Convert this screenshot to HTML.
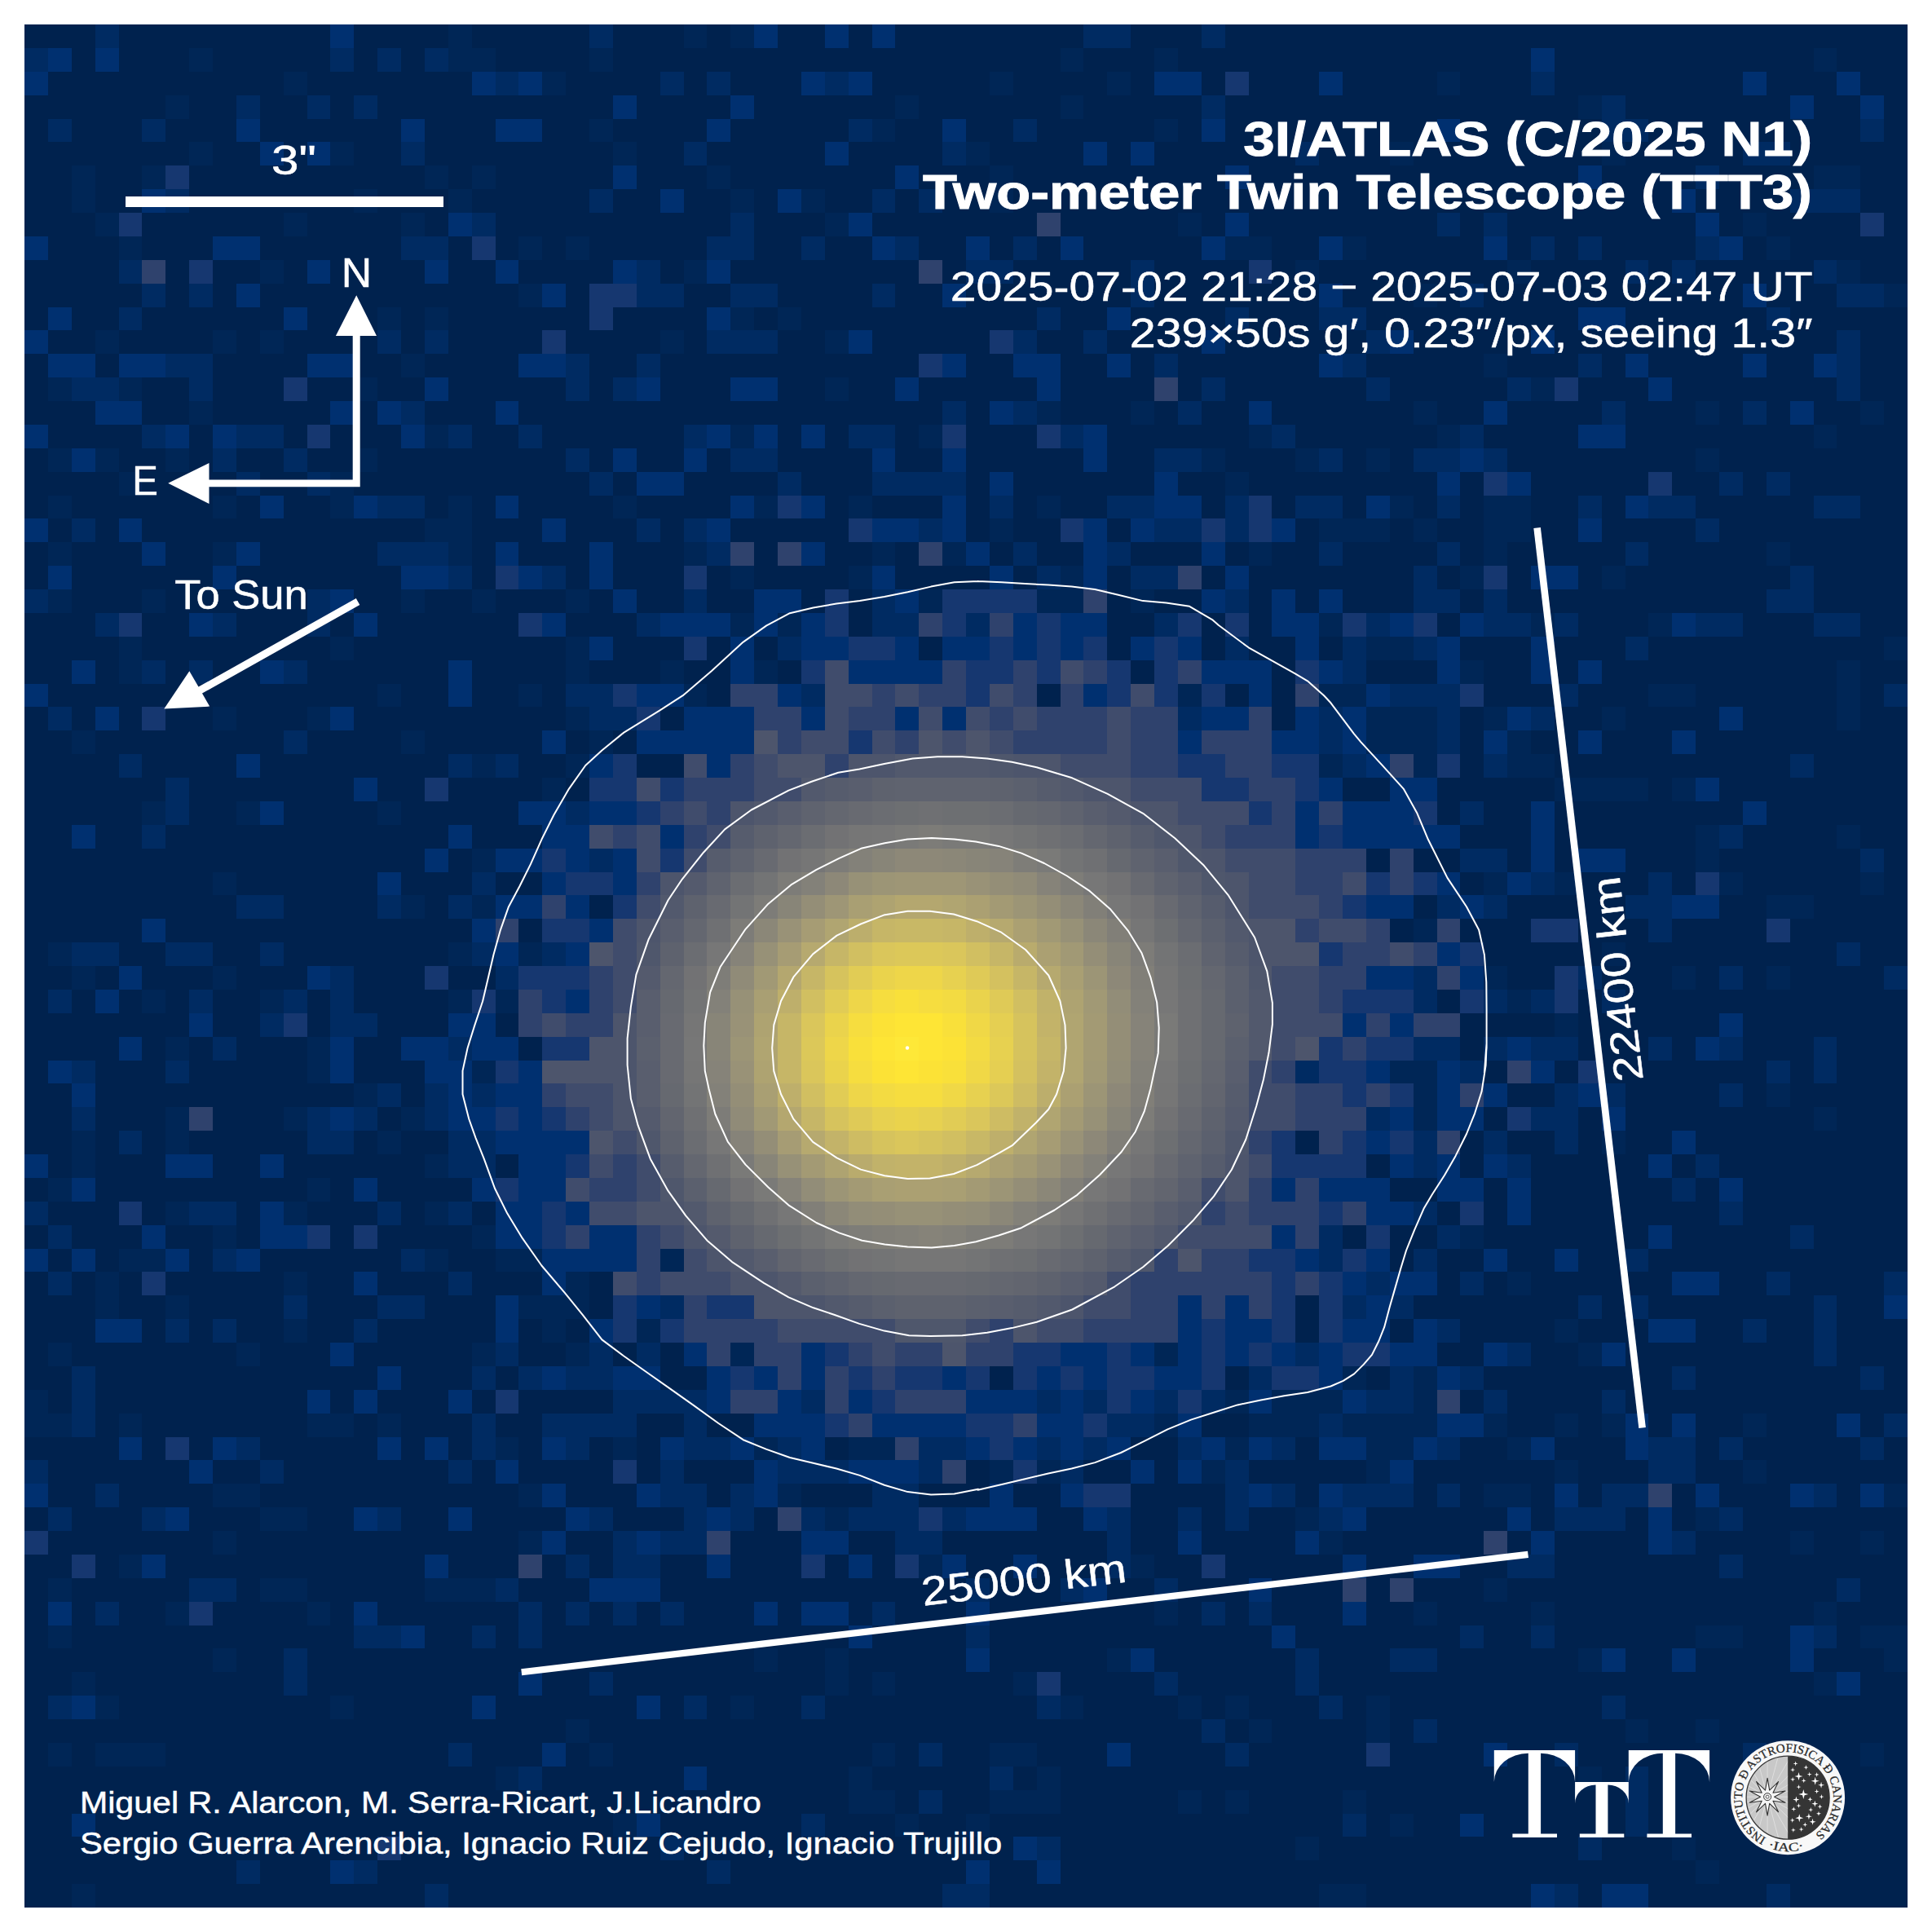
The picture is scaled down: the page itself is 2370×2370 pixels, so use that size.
<!DOCTYPE html>
<html><head><meta charset="utf-8"><style>
html,body{margin:0;padding:0;background:#fff;width:2370px;height:2370px;overflow:hidden}
svg{display:block;position:absolute;left:0;top:0}
text{font-family:"Liberation Sans",sans-serif;fill:#fff}
</style></head><body>
<svg width="2370" height="2370" viewBox="0 0 2370 2370">
<rect x="0" y="0" width="2370" height="2370" fill="#fff"/>
<rect x="30" y="30" width="2310" height="2310" fill="#00224e"/>
<g transform="translate(30 30) scale(28.875000)" shape-rendering="crispEdges"><path fill="#002656" d="M18 0h1v1h-1zM28 0h1v1h-1zM30 0h1v1h-1zM7 1h1v1h-1zM18 1h2v1h-2zM24 1h1v1h-1zM44 1h1v1h-1zM48 1h1v1h-1zM76 1h1v1h-1zM11 2h1v1h-1zM22 2h1v1h-1zM41 2h1v1h-1zM46 2h1v1h-1zM60 2h1v1h-1zM6 3h1v1h-1zM37 3h1v1h-1zM44 3h1v1h-1zM66 3h1v1h-1zM24 4h1v1h-1zM36 4h1v1h-1zM48 4h1v1h-1zM7 5h1v1h-1zM13 5h1v1h-1zM25 5h1v1h-1zM40 5h1v1h-1zM58 5h1v1h-1zM67 5h1v1h-1zM2 6h1v1h-1zM5 6h1v1h-1zM17 6h1v1h-1zM19 6h1v1h-1zM29 6h1v1h-1zM41 6h1v1h-1zM76 6h2v1h-2zM2 7h1v1h-1zM14 7h1v1h-1zM18 7h1v1h-1zM30 7h1v1h-1zM33 7h1v1h-1zM41 7h1v1h-1zM3 8h1v1h-1zM11 8h1v1h-1zM16 8h1v1h-1zM34 8h1v1h-1zM49 8h1v1h-1zM73 8h1v1h-1zM4 9h1v1h-1zM21 9h1v1h-1zM23 9h1v1h-1zM51 9h2v1h-2zM56 9h1v1h-1zM74 9h1v1h-1zM10 10h1v1h-1zM28 10h1v1h-1zM54 10h1v1h-1zM63 10h1v1h-1zM77 10h1v1h-1zM21 11h1v1h-1zM59 11h1v1h-1zM79 11h1v1h-1zM15 12h1v1h-1zM17 12h1v1h-1zM30 12h1v1h-1zM32 12h1v1h-1zM3 13h1v1h-1zM8 13h1v1h-1zM10 13h1v1h-1zM27 13h1v1h-1zM34 13h1v1h-1zM16 14h1v1h-1zM62 14h1v1h-1zM1 15h1v1h-1zM4 15h1v1h-1zM14 15h1v1h-1zM34 15h1v1h-1zM64 15h1v1h-1zM7 16h1v1h-1zM43 16h1v1h-1zM47 16h1v1h-1zM59 16h1v1h-1zM71 16h1v1h-1zM78 16h1v1h-1zM17 17h1v1h-1zM30 17h1v1h-1zM38 17h1v1h-1zM52 17h1v1h-1zM60 17h1v1h-1zM76 17h1v1h-1zM1 18h1v1h-1zM3 18h1v1h-1zM6 18h1v1h-1zM14 18h1v1h-1zM50 18h1v1h-1zM54 18h1v1h-1zM57 18h1v1h-1zM71 18h1v1h-1zM4 19h1v1h-1zM13 19h1v1h-1zM51 19h1v1h-1zM1 20h1v1h-1zM8 20h1v1h-1zM13 20h1v1h-1zM18 20h1v1h-1zM25 20h1v1h-1zM31 20h1v1h-1zM35 20h1v1h-1zM43 20h1v1h-1zM58 20h1v1h-1zM62 20h2v1h-2zM17 21h2v1h-2zM41 21h1v1h-1zM55 21h3v1h-3zM59 21h1v1h-1zM62 21h2v1h-2zM1 22h1v1h-1zM8 22h1v1h-1zM18 22h1v1h-1zM28 22h1v1h-1zM36 22h1v1h-1zM39 22h1v1h-1zM52 22h1v1h-1zM62 22h1v1h-1zM74 22h1v1h-1zM30 23h1v1h-1zM35 23h1v1h-1zM44 23h1v1h-1zM61 23h1v1h-1zM67 23h1v1h-1zM1 24h1v1h-1zM5 24h1v1h-1zM16 24h1v1h-1zM19 24h1v1h-1zM23 24h1v1h-1zM38 24h1v1h-1zM43 24h2v1h-2zM47 24h1v1h-1zM30 25h1v1h-1zM32 25h1v1h-1zM55 25h1v1h-1zM64 25h1v1h-1zM69 25h1v1h-1zM4 26h1v1h-1zM13 26h1v1h-1zM23 26h1v1h-1zM57 26h2v1h-2zM79 26h1v1h-1zM4 27h1v1h-1zM23 27h1v1h-1zM27 27h1v1h-1zM31 27h1v1h-1zM61 27h1v1h-1zM77 27h1v1h-1zM15 28h1v1h-1zM21 28h1v1h-1zM28 28h1v1h-1zM49 28h1v1h-1zM55 28h2v1h-2zM69 28h2v1h-2zM77 28h1v1h-1zM8 29h1v1h-1zM12 29h1v1h-1zM23 29h1v1h-1zM57 29h3v1h-3zM62 29h1v1h-1zM67 29h1v1h-1zM77 29h1v1h-1zM2 30h1v1h-1zM16 30h1v1h-1zM24 30h1v1h-1zM57 30h3v1h-3zM63 30h1v1h-1zM19 31h1v1h-1zM23 31h1v1h-1zM55 31h1v1h-1zM59 31h1v1h-1zM63 31h2v1h-2zM22 32h1v1h-1zM65 32h4v1h-4zM70 32h1v1h-1zM5 33h1v1h-1zM9 33h1v1h-1zM15 33h1v1h-1zM71 34h1v1h-1zM77 34h1v1h-1zM19 35h1v1h-1zM71 35h1v1h-1zM8 36h1v1h-1zM62 36h1v1h-1zM65 36h1v1h-1zM72 36h1v1h-1zM78 36h1v1h-1zM16 37h1v1h-1zM19 37h1v1h-1zM74 37h2v1h-2zM59 38h1v1h-1zM1 39h1v1h-1zM18 39h1v1h-1zM21 39h1v1h-1zM67 39h1v1h-1zM2 40h1v1h-1zM8 40h1v1h-1zM62 40h1v1h-1zM70 40h1v1h-1zM74 40h1v1h-1zM5 41h1v1h-1zM10 41h1v1h-1zM18 41h1v1h-1zM20 41h1v1h-1zM63 41h1v1h-1zM65 42h1v1h-1zM6 43h1v1h-1zM12 43h1v1h-1zM12 44h1v1h-1zM19 44h1v1h-1zM58 44h2v1h-2zM14 45h1v1h-1zM59 45h1v1h-1zM74 45h1v1h-1zM6 46h1v1h-1zM11 46h1v1h-1zM16 46h1v1h-1zM59 46h1v1h-1zM76 46h1v1h-1zM2 47h1v1h-1zM6 47h1v1h-1zM15 47h1v1h-1zM67 47h1v1h-1zM2 48h1v1h-1zM17 48h1v1h-1zM1 49h1v1h-1zM12 49h1v1h-1zM6 50h1v1h-1zM11 50h1v1h-1zM17 50h1v1h-1zM8 51h1v1h-1zM19 51h1v1h-1zM61 51h1v1h-1zM4 52h2v1h-2zM17 52h1v1h-1zM20 52h2v1h-2zM27 52h1v1h-1zM3 53h1v1h-1zM11 53h1v1h-1zM23 53h1v1h-1zM63 53h1v1h-1zM3 54h1v1h-1zM6 54h1v1h-1zM21 54h3v1h-3zM11 55h1v1h-1zM22 55h1v1h-1zM26 55h1v1h-1zM65 55h1v1h-1zM1 56h1v1h-1zM9 56h1v1h-1zM19 56h1v1h-1zM23 56h1v1h-1zM30 56h1v1h-1zM48 56h1v1h-1zM66 56h1v1h-1zM56 57h1v1h-1zM59 57h1v1h-1zM0 58h1v1h-1zM51 58h1v1h-1zM53 58h3v1h-3zM59 58h1v1h-1zM0 59h2v1h-2zM4 59h1v1h-1zM12 59h2v1h-2zM15 59h1v1h-1zM48 59h1v1h-1zM52 59h3v1h-3zM56 59h4v1h-4zM62 59h1v1h-1zM65 59h1v1h-1zM67 59h1v1h-1zM73 59h1v1h-1zM20 60h1v1h-1zM25 60h1v1h-1zM31 60h1v1h-1zM35 60h2v1h-2zM51 60h1v1h-1zM57 60h2v1h-2zM63 60h1v1h-1zM41 61h1v1h-1zM43 61h1v1h-1zM50 61h1v1h-1zM57 61h1v1h-1zM65 61h1v1h-1zM73 61h1v1h-1zM8 62h2v1h-2zM21 62h1v1h-1zM32 62h1v1h-1zM62 62h2v1h-2zM79 62h1v1h-1zM10 63h2v1h-2zM34 63h1v1h-1zM54 63h1v1h-1zM71 63h1v1h-1zM8 64h1v1h-1zM21 64h1v1h-1zM55 64h1v1h-1zM75 64h1v1h-1zM78 64h1v1h-1zM4 65h1v1h-1zM38 65h1v1h-1zM47 65h1v1h-1zM1 66h1v1h-1zM10 66h2v1h-2zM17 66h3v1h-3zM62 66h1v1h-1zM6 67h1v1h-1zM12 67h1v1h-1zM48 67h1v1h-1zM59 67h1v1h-1zM64 67h1v1h-1zM76 67h1v1h-1zM1 68h1v1h-1zM71 68h2v1h-2zM78 68h2v1h-2zM8 69h1v1h-1zM31 69h1v1h-1zM34 69h1v1h-1zM46 69h1v1h-1zM66 69h1v1h-1zM79 69h1v1h-1zM2 70h1v1h-1zM34 70h1v1h-1zM36 70h1v1h-1zM42 70h1v1h-1zM76 70h1v1h-1zM3 71h1v1h-1zM13 71h1v1h-1zM30 71h1v1h-1zM44 71h1v1h-1zM49 71h1v1h-1zM51 71h1v1h-1zM57 71h1v1h-1zM23 72h1v1h-1zM52 72h1v1h-1zM57 72h1v1h-1zM68 72h1v1h-1zM71 72h1v1h-1zM1 73h1v1h-1zM3 73h3v1h-3zM24 73h1v1h-1zM36 73h1v1h-1zM41 73h2v1h-2zM78 73h1v1h-1zM20 74h1v1h-1zM35 74h1v1h-1zM43 74h1v1h-1zM66 74h1v1h-1zM35 75h2v1h-2zM41 75h3v1h-3zM49 75h1v1h-1zM51 75h1v1h-1zM56 75h1v1h-1zM25 76h1v1h-1zM37 76h1v1h-1zM40 76h1v1h-1zM58 76h1v1h-1zM54 77h1v1h-1zM70 77h1v1h-1zM71 78h1v1h-1zM2 79h1v1h-1zM55 79h2v1h-2z"/><path fill="#002b62" d="M3 0h1v1h-1zM24 0h1v1h-1zM45 0h2v1h-2zM50 0h1v1h-1zM0 1h1v1h-1zM13 1h1v1h-1zM15 1h1v1h-1zM17 1h1v1h-1zM20 2h1v1h-1zM27 2h1v1h-1zM29 2h1v1h-1zM34 2h1v1h-1zM64 2h1v1h-1zM9 3h1v1h-1zM12 3h1v1h-1zM14 3h1v1h-1zM50 3h1v1h-1zM67 3h1v1h-1zM1 4h1v1h-1zM5 4h1v1h-1zM35 4h1v1h-1zM42 4h1v1h-1zM67 4h2v1h-2zM78 4h1v1h-1zM16 5h1v1h-1zM28 5h1v1h-1zM39 5h1v1h-1zM54 5h1v1h-1zM73 5h2v1h-2zM71 6h1v1h-1zM6 7h1v1h-1zM24 7h1v1h-1zM36 7h1v1h-1zM38 7h1v1h-1zM75 7h3v1h-3zM19 8h1v1h-1zM30 8h1v1h-1zM60 8h1v1h-1zM62 8h1v1h-1zM16 9h2v1h-2zM29 9h2v1h-2zM33 9h1v1h-1zM37 9h1v1h-1zM42 9h1v1h-1zM64 9h1v1h-1zM66 9h1v1h-1zM71 9h1v1h-1zM4 10h1v1h-1zM26 10h1v1h-1zM40 10h2v1h-2zM47 10h1v1h-1zM68 10h1v1h-1zM70 10h1v1h-1zM76 10h1v1h-1zM5 11h1v1h-1zM7 11h1v1h-1zM26 11h2v1h-2zM30 11h2v1h-2zM36 11h1v1h-1zM47 11h1v1h-1zM61 11h1v1h-1zM77 11h2v1h-2zM4 12h1v1h-1zM43 12h1v1h-1zM51 12h1v1h-1zM55 12h2v1h-2zM74 12h1v1h-1zM15 13h1v1h-1zM17 13h1v1h-1zM29 13h3v1h-3zM42 13h1v1h-1zM45 13h1v1h-1zM57 13h1v1h-1zM77 13h1v1h-1zM6 14h2v1h-2zM23 14h1v1h-1zM26 14h1v1h-1zM48 14h1v1h-1zM56 14h1v1h-1zM66 14h1v1h-1zM77 14h1v1h-1zM2 15h2v1h-2zM7 15h1v1h-1zM23 15h1v1h-1zM25 15h1v1h-1zM50 15h1v1h-1zM57 15h1v1h-1zM63 15h1v1h-1zM77 15h1v1h-1zM16 16h1v1h-1zM39 16h1v1h-1zM42 16h1v1h-1zM49 16h1v1h-1zM67 16h1v1h-1zM73 16h1v1h-1zM5 17h1v1h-1zM9 17h2v1h-2zM18 17h1v1h-1zM21 17h1v1h-1zM28 17h1v1h-1zM35 17h2v1h-2zM44 17h1v1h-1zM53 17h1v1h-1zM61 17h1v1h-1zM8 18h1v1h-1zM11 18h1v1h-1zM23 18h1v1h-1zM30 18h2v1h-2zM48 18h2v1h-2zM55 18h1v1h-1zM59 18h2v1h-2zM62 18h1v1h-1zM9 19h1v1h-1zM12 19h1v1h-1zM24 19h1v1h-1zM32 19h1v1h-1zM36 19h4v1h-4zM72 19h1v1h-1zM74 19h1v1h-1zM15 20h2v1h-2zM41 20h1v1h-1zM46 20h2v1h-2zM51 20h1v1h-1zM54 20h2v1h-2zM60 20h1v1h-1zM66 20h1v1h-1zM69 20h2v1h-2zM76 20h2v1h-2zM2 21h1v1h-1zM26 21h1v1h-1zM28 21h1v1h-1zM38 21h1v1h-1zM48 21h2v1h-2zM51 21h1v1h-1zM71 21h1v1h-1zM15 22h3v1h-3zM29 22h1v1h-1zM42 22h1v1h-1zM46 22h1v1h-1zM55 22h1v1h-1zM60 22h1v1h-1zM68 22h1v1h-1zM18 23h1v1h-1zM22 23h1v1h-1zM43 23h1v1h-1zM47 23h2v1h-2zM59 23h1v1h-1zM75 23h1v1h-1zM0 24h1v1h-1zM12 24h1v1h-1zM28 24h1v1h-1zM36 24h1v1h-1zM51 24h1v1h-1zM59 24h2v1h-2zM62 24h1v1h-1zM74 24h2v1h-2zM3 25h1v1h-1zM8 25h1v1h-1zM12 25h1v1h-1zM26 25h1v1h-1zM36 25h2v1h-2zM40 25h1v1h-1zM48 25h1v1h-1zM57 25h1v1h-1zM62 25h2v1h-2zM65 25h1v1h-1zM71 25h2v1h-2zM76 25h2v1h-2zM32 26h1v1h-1zM51 26h1v1h-1zM56 26h1v1h-1zM59 26h1v1h-1zM68 26h1v1h-1zM5 27h1v1h-1zM7 27h1v1h-1zM11 27h1v1h-1zM56 27h1v1h-1zM23 28h2v1h-2zM33 28h1v1h-1zM58 28h3v1h-3zM65 28h1v1h-1zM79 28h1v1h-1zM1 29h1v1h-1zM24 29h2v1h-2zM49 29h1v1h-1zM55 29h1v1h-1zM60 29h1v1h-1zM64 29h1v1h-1zM11 30h1v1h-1zM55 30h1v1h-1zM60 30h1v1h-1zM4 31h1v1h-1zM18 31h1v1h-1zM20 31h1v1h-1zM56 31h1v1h-1zM62 31h1v1h-1zM75 31h1v1h-1zM6 32h1v1h-1zM6 33h1v1h-1zM23 33h1v1h-1zM61 33h1v1h-1zM5 34h1v1h-1zM72 34h1v1h-1zM24 35h1v1h-1zM61 35h2v1h-2zM78 35h1v1h-1zM19 36h1v1h-1zM64 36h1v1h-1zM69 36h1v1h-1zM9 37h2v1h-2zM15 37h1v1h-1zM18 37h1v1h-1zM60 37h1v1h-1zM62 37h1v1h-1zM68 37h2v1h-2zM69 38h1v1h-1zM2 39h2v1h-2zM6 39h2v1h-2zM10 39h1v1h-1zM19 39h1v1h-1zM22 39h1v1h-1zM77 39h1v1h-1zM13 40h1v1h-1zM20 40h1v1h-1zM59 40h1v1h-1zM66 40h1v1h-1zM72 40h1v1h-1zM79 40h1v1h-1zM1 41h1v1h-1zM7 41h1v1h-1zM11 41h1v1h-1zM13 41h1v1h-1zM59 41h1v1h-1zM62 41h1v1h-1zM64 41h1v1h-1zM67 41h1v1h-1zM10 42h1v1h-1zM13 42h2v1h-2zM8 43h1v1h-1zM18 43h1v1h-1zM59 43h2v1h-2zM62 43h1v1h-1zM64 43h2v1h-2zM69 43h1v1h-1zM72 43h1v1h-1zM76 43h1v1h-1zM2 44h1v1h-1zM6 44h1v1h-1zM54 44h1v1h-1zM61 44h1v1h-1zM74 44h1v1h-1zM76 44h1v1h-1zM15 45h1v1h-1zM17 45h1v1h-1zM19 45h1v1h-1zM65 45h1v1h-1zM67 45h1v1h-1zM72 45h1v1h-1zM2 46h1v1h-1zM12 46h1v1h-1zM14 46h1v1h-1zM17 46h1v1h-1zM57 46h1v1h-1zM64 46h2v1h-2zM4 47h1v1h-1zM12 47h2v1h-2zM18 47h2v1h-2zM59 47h1v1h-1zM62 47h1v1h-1zM65 47h1v1h-1zM18 48h2v1h-2zM59 48h1v1h-1zM63 48h1v1h-1zM71 48h1v1h-1zM70 49h1v1h-1zM0 50h1v1h-1zM7 50h2v1h-2zM15 50h1v1h-1zM18 50h1v1h-1zM59 50h1v1h-1zM72 50h1v1h-1zM1 51h1v1h-1zM55 51h1v1h-1zM60 51h1v1h-1zM75 51h1v1h-1zM8 52h1v1h-1zM16 52h1v1h-1zM55 52h1v1h-1zM59 52h1v1h-1zM68 52h1v1h-1zM1 53h1v1h-1zM18 53h1v1h-1zM57 53h1v1h-1zM61 53h1v1h-1zM74 53h1v1h-1zM79 53h1v1h-1zM11 54h1v1h-1zM15 54h2v1h-2zM27 54h1v1h-1zM56 54h1v1h-1zM58 54h1v1h-1zM66 54h1v1h-1zM68 54h1v1h-1zM76 54h1v1h-1zM6 55h1v1h-1zM8 55h1v1h-1zM14 55h1v1h-1zM60 55h1v1h-1zM73 55h1v1h-1zM76 55h1v1h-1zM20 56h1v1h-1zM24 56h1v1h-1zM26 56h1v1h-1zM54 56h1v1h-1zM63 56h1v1h-1zM76 56h1v1h-1zM2 57h1v1h-1zM19 57h1v1h-1zM21 57h1v1h-1zM23 57h2v1h-2zM52 57h1v1h-1zM58 57h1v1h-1zM61 57h1v1h-1zM70 57h1v1h-1zM78 57h1v1h-1zM2 58h1v1h-1zM25 58h4v1h-4zM33 58h1v1h-1zM43 58h1v1h-1zM45 58h1v1h-1zM48 58h1v1h-1zM50 58h1v1h-1zM57 58h2v1h-2zM62 58h1v1h-1zM67 58h1v1h-1zM2 59h1v1h-1zM19 59h1v1h-1zM22 59h4v1h-4zM28 59h1v1h-1zM46 59h2v1h-2zM55 59h1v1h-1zM79 59h1v1h-1zM9 60h1v1h-1zM19 60h1v1h-1zM23 60h1v1h-1zM28 60h2v1h-2zM32 60h1v1h-1zM38 60h2v1h-2zM43 60h1v1h-1zM45 60h1v1h-1zM49 60h1v1h-1zM53 60h1v1h-1zM60 60h1v1h-1zM69 60h2v1h-2zM72 60h1v1h-1zM78 60h1v1h-1zM0 61h1v1h-1zM10 61h1v1h-1zM18 61h1v1h-1zM27 61h1v1h-1zM32 61h3v1h-3zM38 61h1v1h-1zM44 61h1v1h-1zM51 61h1v1h-1zM69 61h2v1h-2zM3 62h1v1h-1zM27 62h2v1h-2zM30 62h1v1h-1zM36 62h2v1h-2zM51 62h1v1h-1zM53 62h1v1h-1zM56 62h3v1h-3zM60 62h1v1h-1zM67 62h2v1h-2zM76 62h1v1h-1zM1 63h1v1h-1zM5 63h1v1h-1zM15 63h1v1h-1zM24 63h1v1h-1zM28 63h1v1h-1zM30 63h1v1h-1zM33 63h1v1h-1zM35 63h3v1h-3zM39 63h1v1h-1zM46 63h1v1h-1zM49 63h1v1h-1zM51 63h1v1h-1zM55 63h1v1h-1zM65 63h3v1h-3zM72 63h1v1h-1zM25 64h1v1h-1zM27 64h2v1h-2zM37 64h2v1h-2zM46 64h1v1h-1zM70 64h1v1h-1zM23 65h1v1h-1zM25 65h2v1h-2zM46 65h1v1h-1zM63 65h2v1h-2zM72 65h1v1h-1zM7 66h2v1h-2zM20 66h1v1h-1zM40 66h1v1h-1zM44 66h1v1h-1zM48 66h1v1h-1zM77 66h1v1h-1zM3 67h1v1h-1zM21 67h1v1h-1zM23 67h1v1h-1zM25 67h1v1h-1zM27 67h1v1h-1zM36 67h1v1h-1zM50 67h1v1h-1zM52 67h1v1h-1zM14 68h2v1h-2zM19 68h1v1h-1zM21 68h1v1h-1zM40 68h1v1h-1zM61 68h1v1h-1zM64 68h1v1h-1zM76 68h1v1h-1zM11 69h1v1h-1zM54 69h1v1h-1zM58 69h2v1h-2zM11 70h1v1h-1zM24 70h1v1h-1zM48 70h1v1h-1zM54 70h1v1h-1zM1 71h1v1h-1zM28 71h1v1h-1zM33 71h1v1h-1zM43 71h1v1h-1zM55 71h1v1h-1zM67 71h1v1h-1zM50 72h1v1h-1zM59 72h1v1h-1zM18 73h1v1h-1zM38 73h1v1h-1zM51 73h1v1h-1zM65 73h1v1h-1zM73 73h1v1h-1zM21 74h1v1h-1zM41 74h1v1h-1zM68 74h1v1h-1zM38 75h1v1h-1zM68 75h1v1h-1zM33 76h1v1h-1zM56 76h1v1h-1zM68 76h1v1h-1zM27 77h1v1h-1zM43 77h1v1h-1zM66 77h1v1h-1zM9 78h1v1h-1zM14 78h1v1h-1zM29 78h1v1h-1zM17 79h1v1h-1zM39 79h2v1h-2zM65 79h1v1h-1zM74 79h1v1h-1z"/><path fill="#003070" d="M13 0h1v1h-1zM31 0h1v1h-1zM34 0h1v1h-1zM36 0h1v1h-1zM1 1h1v1h-1zM3 1h1v1h-1zM64 1h1v1h-1zM0 2h1v1h-1zM19 2h1v1h-1zM21 2h1v1h-1zM33 2h1v1h-1zM35 2h1v1h-1zM48 2h2v1h-2zM55 2h1v1h-1zM73 2h1v1h-1zM77 2h1v1h-1zM25 3h1v1h-1zM30 3h1v1h-1zM75 3h1v1h-1zM78 3h1v1h-1zM9 4h1v1h-1zM16 4h1v1h-1zM20 4h2v1h-2zM29 4h1v1h-1zM39 4h1v1h-1zM50 4h1v1h-1zM60 4h1v1h-1zM10 5h1v1h-1zM12 5h1v1h-1zM34 5h1v1h-1zM45 5h1v1h-1zM47 5h1v1h-1zM25 6h1v1h-1zM37 6h1v1h-1zM51 6h1v1h-1zM66 6h1v1h-1zM5 7h1v1h-1zM27 7h1v1h-1zM32 7h1v1h-1zM70 7h1v1h-1zM18 8h1v1h-1zM35 8h1v1h-1zM51 8h1v1h-1zM71 8h1v1h-1zM0 9h1v1h-1zM8 9h2v1h-2zM36 9h1v1h-1zM40 9h1v1h-1zM44 9h1v1h-1zM50 9h1v1h-1zM55 9h1v1h-1zM62 9h1v1h-1zM72 9h1v1h-1zM12 10h1v1h-1zM17 10h1v1h-1zM20 10h1v1h-1zM25 10h1v1h-1zM29 10h1v1h-1zM9 11h1v1h-1zM22 11h1v1h-1zM39 11h1v1h-1zM55 11h1v1h-1zM73 11h1v1h-1zM1 12h1v1h-1zM11 12h1v1h-1zM29 12h1v1h-1zM46 12h1v1h-1zM66 12h2v1h-2zM0 13h1v1h-1zM35 13h1v1h-1zM50 13h1v1h-1zM58 13h1v1h-1zM64 13h1v1h-1zM1 14h2v1h-2zM4 14h2v1h-2zM12 14h2v1h-2zM21 14h2v1h-2zM39 14h1v1h-1zM42 14h2v1h-2zM46 14h1v1h-1zM55 14h1v1h-1zM68 14h1v1h-1zM73 14h1v1h-1zM76 14h1v1h-1zM17 15h1v1h-1zM26 15h1v1h-1zM30 15h2v1h-2zM37 15h1v1h-1zM43 15h1v1h-1zM69 15h1v1h-1zM3 16h2v1h-2zM13 16h1v1h-1zM15 16h1v1h-1zM20 16h1v1h-1zM41 16h1v1h-1zM52 16h1v1h-1zM62 16h1v1h-1zM75 16h1v1h-1zM0 17h1v1h-1zM6 17h1v1h-1zM8 17h1v1h-1zM16 17h1v1h-1zM29 17h1v1h-1zM31 17h1v1h-1zM33 17h1v1h-1zM45 17h1v1h-1zM66 17h2v1h-2zM2 18h1v1h-1zM25 18h1v1h-1zM28 18h1v1h-1zM36 18h1v1h-1zM39 18h1v1h-1zM45 18h1v1h-1zM61 18h1v1h-1zM26 19h2v1h-2zM41 19h1v1h-1zM48 19h1v1h-1zM60 19h1v1h-1zM63 19h1v1h-1zM10 20h1v1h-1zM14 20h1v1h-1zM20 20h1v1h-1zM30 20h1v1h-1zM33 20h1v1h-1zM39 20h1v1h-1zM48 20h2v1h-2zM57 20h1v1h-1zM68 20h1v1h-1zM0 21h1v1h-1zM4 21h1v1h-1zM22 21h1v1h-1zM29 21h1v1h-1zM36 21h2v1h-2zM39 21h1v1h-1zM45 21h1v1h-1zM47 21h1v1h-1zM53 21h1v1h-1zM66 21h1v1h-1zM5 22h1v1h-1zM9 22h1v1h-1zM20 22h1v1h-1zM24 22h1v1h-1zM33 22h1v1h-1zM40 22h1v1h-1zM45 22h1v1h-1zM50 22h1v1h-1zM1 23h1v1h-1zM8 23h1v1h-1zM16 23h2v1h-2zM21 23h1v1h-1zM24 23h1v1h-1zM36 23h1v1h-1zM41 23h1v1h-1zM45 23h1v1h-1zM51 23h1v1h-1zM64 23h2v1h-2zM13 24h1v1h-1zM25 24h1v1h-1zM31 24h2v1h-2zM37 24h1v1h-1zM50 24h1v1h-1zM53 24h1v1h-1zM55 24h1v1h-1zM7 25h1v1h-1zM14 25h1v1h-1zM22 25h1v1h-1zM27 25h3v1h-3zM31 25h1v1h-1zM33 25h1v1h-1zM42 25h1v1h-1zM44 25h2v1h-2zM53 25h2v1h-2zM58 25h1v1h-1zM61 25h1v1h-1zM70 25h1v1h-1zM24 26h1v1h-1zM30 26h1v1h-1zM33 26h2v1h-2zM37 26h1v1h-1zM39 26h2v1h-2zM42 26h1v1h-1zM44 26h1v1h-1zM47 26h1v1h-1zM49 26h1v1h-1zM54 26h1v1h-1zM60 26h1v1h-1zM64 26h1v1h-1zM2 27h1v1h-1zM10 27h1v1h-1zM18 27h1v1h-1zM30 27h1v1h-1zM35 27h4v1h-4zM50 27h3v1h-3zM55 27h1v1h-1zM60 27h1v1h-1zM64 27h1v1h-1zM66 27h1v1h-1zM0 28h1v1h-1zM18 28h1v1h-1zM26 28h2v1h-2zM32 28h1v1h-1zM45 28h1v1h-1zM52 28h1v1h-1zM57 28h1v1h-1zM3 29h1v1h-1zM13 29h1v1h-1zM28 29h3v1h-3zM33 29h1v1h-1zM37 29h1v1h-1zM39 29h1v1h-1zM50 29h2v1h-2zM54 29h1v1h-1zM56 29h1v1h-1zM63 29h1v1h-1zM72 29h1v1h-1zM22 30h1v1h-1zM26 30h5v1h-5zM49 30h1v1h-1zM53 30h2v1h-2zM56 30h1v1h-1zM62 30h1v1h-1zM66 30h1v1h-1zM70 30h1v1h-1zM9 31h1v1h-1zM24 31h1v1h-1zM29 31h1v1h-1zM57 31h1v1h-1zM14 32h1v1h-1zM55 32h1v1h-1zM58 32h2v1h-2zM71 32h1v1h-1zM10 33h1v1h-1zM21 33h2v1h-2zM24 33h2v1h-2zM54 33h1v1h-1zM56 33h3v1h-3zM64 33h1v1h-1zM73 33h1v1h-1zM2 34h1v1h-1zM18 34h1v1h-1zM22 34h2v1h-2zM27 34h1v1h-1zM54 34h1v1h-1zM56 34h5v1h-5zM64 34h1v1h-1zM17 35h1v1h-1zM20 35h2v1h-2zM23 35h1v1h-1zM25 35h1v1h-1zM64 35h1v1h-1zM66 35h2v1h-2zM15 36h1v1h-1zM22 36h1v1h-1zM25 36h1v1h-1zM60 36h1v1h-1zM63 36h1v1h-1zM20 37h2v1h-2zM23 37h1v1h-1zM57 37h2v1h-2zM61 37h1v1h-1zM70 37h2v1h-2zM5 38h1v1h-1zM19 38h1v1h-1zM24 38h1v1h-1zM20 39h1v1h-1zM23 39h1v1h-1zM60 39h1v1h-1zM4 40h1v1h-1zM12 40h1v1h-1zM57 40h2v1h-2zM61 40h1v1h-1zM3 41h1v1h-1zM23 41h1v1h-1zM7 42h1v1h-1zM18 42h2v1h-2zM56 42h1v1h-1zM58 42h1v1h-1zM72 42h1v1h-1zM4 43h1v1h-1zM13 43h1v1h-1zM16 43h2v1h-2zM19 43h2v1h-2zM63 43h1v1h-1zM71 43h1v1h-1zM1 44h1v1h-1zM13 44h1v1h-1zM17 44h2v1h-2zM21 44h1v1h-1zM57 44h1v1h-1zM60 44h1v1h-1zM64 44h1v1h-1zM2 45h1v1h-1zM18 45h1v1h-1zM20 45h2v1h-2zM60 45h1v1h-1zM62 45h1v1h-1zM66 45h1v1h-1zM13 46h1v1h-1zM18 46h2v1h-2zM21 46h1v1h-1zM58 46h1v1h-1zM60 46h2v1h-2zM67 46h1v1h-1zM20 47h4v1h-4zM57 47h1v1h-1zM70 47h1v1h-1zM0 48h1v1h-1zM6 48h2v1h-2zM10 48h1v1h-1zM21 48h2v1h-2zM58 48h1v1h-1zM60 48h1v1h-1zM62 48h1v1h-1zM69 48h1v1h-1zM2 49h1v1h-1zM14 49h1v1h-1zM19 49h1v1h-1zM21 49h2v1h-2zM53 49h1v1h-1zM55 49h3v1h-3zM60 49h2v1h-2zM63 49h1v1h-1zM72 49h1v1h-1zM10 50h1v1h-1zM20 50h2v1h-2zM23 50h1v1h-1zM57 50h2v1h-2zM63 50h1v1h-1zM5 51h1v1h-1zM10 51h2v1h-2zM20 51h2v1h-2zM24 51h2v1h-2zM53 51h1v1h-1zM69 51h1v1h-1zM0 52h1v1h-1zM2 52h1v1h-1zM6 52h1v1h-1zM9 52h1v1h-1zM22 52h4v1h-4zM54 52h1v1h-1zM57 52h1v1h-1zM62 52h1v1h-1zM65 52h1v1h-1zM14 53h1v1h-1zM22 53h1v1h-1zM56 53h1v1h-1zM58 53h2v1h-2zM70 53h2v1h-2zM20 54h1v1h-1zM26 54h1v1h-1zM49 54h1v1h-1zM51 54h1v1h-1zM57 54h1v1h-1zM79 54h1v1h-1zM3 55h2v1h-2zM20 55h1v1h-1zM24 55h1v1h-1zM49 55h1v1h-1zM51 55h2v1h-2zM56 55h2v1h-2zM59 55h1v1h-1zM69 55h2v1h-2zM13 56h1v1h-1zM28 56h1v1h-1zM33 56h1v1h-1zM44 56h2v1h-2zM47 56h1v1h-1zM49 56h1v1h-1zM51 56h1v1h-1zM53 56h1v1h-1zM55 56h1v1h-1zM58 56h2v1h-2zM62 56h1v1h-1zM67 56h1v1h-1zM15 57h1v1h-1zM22 57h1v1h-1zM25 57h2v1h-2zM29 57h1v1h-1zM31 57h1v1h-1zM33 57h1v1h-1zM39 57h1v1h-1zM43 57h1v1h-1zM45 57h1v1h-1zM48 57h2v1h-2zM55 57h1v1h-1zM60 57h1v1h-1zM12 58h1v1h-1zM14 58h1v1h-1zM18 58h1v1h-1zM29 58h1v1h-1zM32 58h1v1h-1zM35 58h1v1h-1zM40 58h3v1h-3zM44 58h1v1h-1zM47 58h1v1h-1zM52 58h1v1h-1zM56 58h1v1h-1zM31 59h3v1h-3zM36 59h4v1h-4zM43 59h2v1h-2zM49 59h1v1h-1zM60 59h2v1h-2zM68 59h1v1h-1zM70 59h1v1h-1zM77 59h1v1h-1zM4 60h1v1h-1zM8 60h1v1h-1zM15 60h1v1h-1zM17 60h1v1h-1zM22 60h1v1h-1zM27 60h1v1h-1zM30 60h1v1h-1zM33 60h1v1h-1zM40 60h1v1h-1zM42 60h1v1h-1zM44 60h1v1h-1zM46 60h1v1h-1zM50 60h1v1h-1zM52 60h1v1h-1zM55 60h2v1h-2zM59 60h1v1h-1zM64 60h1v1h-1zM68 60h1v1h-1zM7 61h1v1h-1zM20 61h1v1h-1zM31 61h1v1h-1zM35 61h3v1h-3zM47 61h1v1h-1zM49 61h1v1h-1zM58 61h1v1h-1zM0 62h1v1h-1zM22 62h1v1h-1zM26 62h1v1h-1zM31 62h1v1h-1zM41 62h1v1h-1zM44 62h1v1h-1zM52 62h1v1h-1zM55 62h1v1h-1zM65 62h1v1h-1zM71 62h1v1h-1zM75 62h1v1h-1zM78 62h1v1h-1zM6 63h1v1h-1zM14 63h1v1h-1zM18 63h1v1h-1zM23 63h1v1h-1zM29 63h1v1h-1zM40 63h3v1h-3zM45 63h1v1h-1zM56 63h1v1h-1zM63 63h1v1h-1zM69 63h1v1h-1zM22 64h1v1h-1zM26 64h1v1h-1zM33 64h2v1h-2zM49 64h1v1h-1zM54 64h1v1h-1zM64 64h1v1h-1zM69 64h1v1h-1zM5 65h1v1h-1zM17 65h1v1h-1zM29 65h1v1h-1zM35 65h1v1h-1zM39 65h1v1h-1zM42 65h1v1h-1zM56 65h1v1h-1zM59 65h2v1h-2zM24 66h3v1h-3zM45 66h1v1h-1zM52 66h1v1h-1zM1 67h1v1h-1zM14 67h1v1h-1zM31 67h1v1h-1zM33 67h2v1h-2zM40 67h1v1h-1zM56 67h1v1h-1zM16 68h1v1h-1zM35 68h1v1h-1zM53 68h1v1h-1zM75 68h1v1h-1zM40 69h1v1h-1zM47 69h1v1h-1zM67 69h1v1h-1zM70 69h1v1h-1zM75 69h1v1h-1zM21 70h1v1h-1zM77 70h1v1h-1zM2 71h1v1h-1zM19 71h1v1h-1zM26 71h1v1h-1zM22 73h1v1h-1zM46 73h1v1h-1zM62 73h1v1h-1zM28 74h1v1h-1zM2 76h1v1h-1zM26 76h1v1h-1zM61 76h1v1h-1zM42 77h1v1h-1zM13 78h1v1h-1zM40 78h1v1h-1zM43 78h1v1h-1zM64 79h1v1h-1zM67 79h2v1h-2z"/><path fill="#163770" d="M51 2h1v1h-1zM6 6h1v1h-1zM4 8h1v1h-1zM78 8h1v1h-1zM19 9h1v1h-1zM7 10h1v1h-1zM52 10h1v1h-1zM24 11h2v1h-2zM24 12h1v1h-1zM22 13h1v1h-1zM41 13h1v1h-1zM38 14h1v1h-1zM11 15h1v1h-1zM65 15h1v1h-1zM12 17h1v1h-1zM39 17h1v1h-1zM43 17h1v1h-1zM62 19h1v1h-1zM69 19h1v1h-1zM32 20h1v1h-1zM52 20h1v1h-1zM35 21h1v1h-1zM44 21h1v1h-1zM50 21h1v1h-1zM52 21h1v1h-1zM20 23h1v1h-1zM28 23h1v1h-1zM62 23h1v1h-1zM34 24h1v1h-1zM39 24h4v1h-4zM4 25h1v1h-1zM21 25h1v1h-1zM34 25h1v1h-1zM39 25h1v1h-1zM43 25h1v1h-1zM49 25h1v1h-1zM51 25h1v1h-1zM56 25h1v1h-1zM59 25h1v1h-1zM28 26h1v1h-1zM35 26h2v1h-2zM41 26h1v1h-1zM43 26h1v1h-1zM45 26h1v1h-1zM48 26h1v1h-1zM33 27h1v1h-1zM40 27h2v1h-2zM43 27h1v1h-1zM46 27h1v1h-1zM48 27h1v1h-1zM54 27h1v1h-1zM25 28h1v1h-1zM40 28h1v1h-1zM46 28h1v1h-1zM48 28h1v1h-1zM50 28h1v1h-1zM61 28h1v1h-1zM5 29h1v1h-1zM26 29h1v1h-1zM35 30h1v1h-1zM25 31h1v1h-1zM49 31h2v1h-2zM53 31h2v1h-2zM60 31h1v1h-1zM17 32h1v1h-1zM24 32h2v1h-2zM27 32h1v1h-1zM50 32h2v1h-2zM54 32h1v1h-1zM26 33h1v1h-1zM52 33h1v1h-1zM59 33h1v1h-1zM55 34h1v1h-1zM22 35h1v1h-1zM27 35h1v1h-1zM23 36h2v1h-2zM57 36h1v1h-1zM59 36h1v1h-1zM71 36h1v1h-1zM25 37h1v1h-1zM56 37h1v1h-1zM22 38h2v1h-2zM64 38h2v1h-2zM74 38h1v1h-1zM55 39h1v1h-1zM61 39h1v1h-1zM17 40h1v1h-1zM21 40h3v1h-3zM65 40h1v1h-1zM19 41h1v1h-1zM22 41h1v1h-1zM56 41h3v1h-3zM61 41h1v1h-1zM65 41h1v1h-1zM11 42h1v1h-1zM22 43h2v1h-2zM55 43h1v1h-1zM57 43h2v1h-2zM20 44h1v1h-1zM55 44h2v1h-2zM66 44h1v1h-1zM56 45h1v1h-1zM58 45h1v1h-1zM20 46h1v1h-1zM22 46h1v1h-1zM63 46h1v1h-1zM53 47h1v1h-1zM56 47h1v1h-1zM58 47h1v1h-1zM23 48h1v1h-1zM53 48h4v1h-4zM20 49h1v1h-1zM4 50h1v1h-1zM22 50h1v1h-1zM55 50h1v1h-1zM61 50h1v1h-1zM12 51h1v1h-1zM14 51h1v1h-1zM22 51h1v1h-1zM57 51h1v1h-1zM52 52h2v1h-2zM56 52h1v1h-1zM5 53h1v1h-1zM53 53h1v1h-1zM55 53h1v1h-1zM25 54h1v1h-1zM29 54h2v1h-2zM53 54h1v1h-1zM55 54h1v1h-1zM25 55h1v1h-1zM27 55h1v1h-1zM50 55h1v1h-1zM53 55h1v1h-1zM55 55h1v1h-1zM34 56h1v1h-1zM42 56h2v1h-2zM46 56h1v1h-1zM50 56h1v1h-1zM52 56h1v1h-1zM56 56h2v1h-2zM30 57h1v1h-1zM35 57h1v1h-1zM37 57h2v1h-2zM40 57h1v1h-1zM42 57h1v1h-1zM44 57h1v1h-1zM46 57h2v1h-2zM50 57h1v1h-1zM53 57h2v1h-2zM20 58h1v1h-1zM36 58h1v1h-1zM46 58h1v1h-1zM49 58h1v1h-1zM34 59h1v1h-1zM40 59h2v1h-2zM45 59h1v1h-1zM6 60h1v1h-1zM41 60h1v1h-1zM25 61h1v1h-1zM42 61h1v1h-1zM45 62h2v1h-2zM38 63h1v1h-1zM0 64h1v1h-1zM2 65h1v1h-1zM33 65h1v1h-1zM37 65h1v1h-1zM50 65h1v1h-1zM7 67h1v1h-1zM43 70h1v1h-1zM57 73h1v1h-1zM15 77h1v1h-1z"/><path fill="#2f426d" d="M43 8h1v1h-1zM5 10h1v1h-1zM38 10h1v1h-1zM48 15h1v1h-1zM30 22h1v1h-1zM32 22h1v1h-1zM38 22h1v1h-1zM49 23h1v1h-1zM45 24h1v1h-1zM38 25h1v1h-1zM41 25h1v1h-1zM39 27h1v1h-1zM42 27h1v1h-1zM45 27h1v1h-1zM49 27h1v1h-1zM30 28h2v1h-2zM36 28h1v1h-1zM38 28h2v1h-2zM42 28h1v1h-1zM44 28h1v1h-1zM54 28h1v1h-1zM31 29h2v1h-2zM35 29h2v1h-2zM41 29h1v1h-1zM43 29h3v1h-3zM47 29h2v1h-2zM52 29h1v1h-1zM32 30h1v1h-1zM37 30h1v1h-1zM42 30h4v1h-4zM47 30h2v1h-2zM50 30h3v1h-3zM30 31h1v1h-1zM34 31h1v1h-1zM47 31h2v1h-2zM51 31h2v1h-2zM58 31h1v1h-1zM28 32h3v1h-3zM52 32h2v1h-2zM27 33h1v1h-1zM29 33h1v1h-1zM53 33h1v1h-1zM55 33h1v1h-1zM25 34h1v1h-1zM28 34h1v1h-1zM51 34h3v1h-3zM54 35h3v1h-3zM58 35h1v1h-1zM26 36h1v1h-1zM54 36h2v1h-2zM58 36h1v1h-1zM22 37h1v1h-1zM55 37h1v1h-1zM20 38h1v1h-1zM54 38h1v1h-1zM57 38h1v1h-1zM60 38h1v1h-1zM56 39h2v1h-2zM59 39h1v1h-1zM24 40h1v1h-1zM55 40h2v1h-2zM60 40h1v1h-1zM21 41h1v1h-1zM24 41h1v1h-1zM55 41h1v1h-1zM21 42h1v1h-1zM23 42h2v1h-2zM57 42h1v1h-1zM59 42h2v1h-2zM56 43h1v1h-1zM53 44h1v1h-1zM63 44h1v1h-1zM22 45h1v1h-1zM54 45h2v1h-2zM57 45h1v1h-1zM61 45h1v1h-1zM7 46h1v1h-1zM23 46h1v1h-1zM54 46h3v1h-3zM52 47h1v1h-1zM55 47h1v1h-1zM60 47h1v1h-1zM25 48h1v1h-1zM24 49h2v1h-2zM52 49h1v1h-1zM54 49h1v1h-1zM50 50h1v1h-1zM52 50h3v1h-3zM56 50h1v1h-1zM23 51h1v1h-1zM26 51h1v1h-1zM54 51h1v1h-1zM26 52h1v1h-1zM48 52h1v1h-1zM50 52h2v1h-2zM26 53h1v1h-1zM47 53h6v1h-6zM54 53h1v1h-1zM28 54h1v1h-1zM47 54h2v1h-2zM50 54h1v1h-1zM52 54h1v1h-1zM28 55h4v1h-4zM41 55h1v1h-1zM45 55h4v1h-4zM29 56h1v1h-1zM31 56h2v1h-2zM35 56h1v1h-1zM37 56h2v1h-2zM40 56h2v1h-2zM32 57h1v1h-1zM34 57h1v1h-1zM36 57h1v1h-1zM30 58h2v1h-2zM34 58h1v1h-1zM37 58h3v1h-3zM60 58h1v1h-1zM35 59h1v1h-1zM42 59h1v1h-1zM37 60h1v1h-1zM39 61h1v1h-1zM69 62h1v1h-1zM32 63h1v1h-1zM29 64h1v1h-1zM62 64h1v1h-1zM21 65h1v1h-1zM56 66h1v1h-1zM58 66h1v1h-1z"/><path fill="#404c6c" d="M34 27h1v1h-1zM44 27h1v1h-1zM34 28h2v1h-2zM37 28h1v1h-1zM41 28h1v1h-1zM47 28h1v1h-1zM34 29h1v1h-1zM38 29h1v1h-1zM40 29h1v1h-1zM42 29h1v1h-1zM46 29h1v1h-1zM33 30h2v1h-2zM36 30h1v1h-1zM39 30h1v1h-1zM41 30h1v1h-1zM46 30h1v1h-1zM28 31h1v1h-1zM31 31h1v1h-1zM44 31h3v1h-3zM26 32h1v1h-1zM31 32h2v1h-2zM47 32h3v1h-3zM28 33h1v1h-1zM49 33h3v1h-3zM24 34h1v1h-1zM26 34h1v1h-1zM29 34h1v1h-1zM50 34h1v1h-1zM26 35h1v1h-1zM28 35h1v1h-1zM51 35h3v1h-3zM52 36h2v1h-2zM56 36h1v1h-1zM26 37h1v1h-1zM52 37h3v1h-3zM25 38h1v1h-1zM55 38h2v1h-2zM25 39h1v1h-1zM58 39h1v1h-1zM25 40h1v1h-1zM53 40h2v1h-2zM25 41h1v1h-1zM53 41h2v1h-2zM22 42h1v1h-1zM53 42h3v1h-3zM53 43h1v1h-1zM52 44h1v1h-1zM23 45h2v1h-2zM52 45h2v1h-2zM24 46h1v1h-1zM52 46h2v1h-2zM25 47h1v1h-1zM24 48h1v1h-1zM26 48h1v1h-1zM52 48h1v1h-1zM23 49h1v1h-1zM26 49h1v1h-1zM50 49h1v1h-1zM24 50h2v1h-2zM51 50h1v1h-1zM27 51h1v1h-1zM49 51h4v1h-4zM28 52h1v1h-1zM25 53h1v1h-1zM27 53h3v1h-3zM46 53h1v1h-1zM45 54h2v1h-2zM32 55h5v1h-5zM40 55h1v1h-1zM43 55h2v1h-2zM36 56h1v1h-1z"/><path fill="#4d556c" d="M31 30h1v1h-1zM38 30h1v1h-1zM40 30h1v1h-1zM32 31h2v1h-2zM35 31h2v1h-2zM42 31h2v1h-2zM45 32h2v1h-2zM30 33h1v1h-1zM47 33h2v1h-2zM49 34h1v1h-1zM50 35h1v1h-1zM27 36h1v1h-1zM51 36h1v1h-1zM51 37h1v1h-1zM26 38h1v1h-1zM52 38h2v1h-2zM24 39h1v1h-1zM52 39h3v1h-3zM25 42h1v1h-1zM24 43h2v1h-2zM54 43h1v1h-1zM22 44h4v1h-4zM25 45h1v1h-1zM25 46h1v1h-1zM24 47h1v1h-1zM51 48h1v1h-1zM51 49h1v1h-1zM26 50h2v1h-2zM28 51h1v1h-1zM29 52h1v1h-1zM49 52h1v1h-1zM30 53h2v1h-2zM31 54h3v1h-3zM44 54h1v1h-1zM42 55h1v1h-1zM39 56h1v1h-1z"/><path fill="#4f576c" d="M41 31h1v1h-1zM48 34h1v1h-1zM49 35h1v1h-1zM50 36h1v1h-1zM26 39h1v1h-1zM52 40h1v1h-1zM26 47h1v1h-1zM51 47h1v1h-1zM27 49h1v1h-1zM47 52h1v1h-1zM37 55h3v1h-3z"/><path fill="#52596d" d="M37 31h4v1h-4zM33 32h1v1h-1zM44 32h1v1h-1zM31 33h1v1h-1zM27 37h1v1h-1zM51 38h1v1h-1zM52 41h1v1h-1zM52 42h1v1h-1zM52 43h1v1h-1zM28 50h1v1h-1zM49 50h1v1h-1zM48 51h1v1h-1zM30 52h1v1h-1zM34 54h1v1h-1zM43 54h1v1h-1z"/><path fill="#545a6d" d="M46 33h1v1h-1zM28 36h1v1h-1zM26 40h1v1h-1zM26 46h1v1h-1zM51 46h1v1h-1zM29 51h1v1h-1zM32 53h1v1h-1zM45 53h1v1h-1z"/><path fill="#565c6d" d="M34 32h1v1h-1zM43 32h1v1h-1zM30 34h1v1h-1zM47 34h1v1h-1zM29 35h1v1h-1zM50 37h1v1h-1zM51 39h1v1h-1zM51 45h1v1h-1zM27 48h1v1h-1zM50 48h1v1h-1zM46 52h1v1h-1zM35 54h1v1h-1zM42 54h1v1h-1z"/><path fill="#595e6e" d="M35 32h1v1h-1zM32 33h1v1h-1zM45 33h1v1h-1zM48 35h1v1h-1zM49 36h1v1h-1zM27 38h1v1h-1zM26 41h1v1h-1zM26 42h1v1h-1zM26 44h1v1h-1zM51 44h1v1h-1zM26 45h1v1h-1zM49 49h1v1h-1zM48 50h1v1h-1zM47 51h1v1h-1zM31 52h1v1h-1zM44 53h1v1h-1zM41 54h1v1h-1z"/><path fill="#5b606e" d="M42 32h1v1h-1zM50 38h1v1h-1zM51 40h1v1h-1zM51 41h1v1h-1zM26 43h1v1h-1zM51 43h1v1h-1zM50 47h1v1h-1zM28 49h1v1h-1zM33 53h1v1h-1zM36 54h1v1h-1zM40 54h1v1h-1z"/><path fill="#5e626e" d="M36 32h1v1h-1zM41 32h1v1h-1zM31 34h1v1h-1zM46 34h1v1h-1zM28 37h1v1h-1zM27 39h1v1h-1zM51 42h1v1h-1zM50 46h1v1h-1zM27 47h1v1h-1zM29 50h1v1h-1zM30 51h1v1h-1zM45 52h1v1h-1zM43 53h1v1h-1zM37 54h3v1h-3z"/><path fill="#5f636f" d="M37 32h4v1h-4zM33 33h1v1h-1zM44 33h1v1h-1zM30 35h1v1h-1zM47 35h1v1h-1zM29 36h1v1h-1zM48 36h1v1h-1zM49 37h1v1h-1zM50 39h1v1h-1zM49 48h1v1h-1zM46 51h1v1h-1zM34 53h1v1h-1z"/><path fill="#62656f" d="M50 45h1v1h-1zM27 46h1v1h-1zM48 49h1v1h-1zM47 50h1v1h-1zM32 52h1v1h-1zM42 53h1v1h-1z"/><path fill="#646770" d="M34 33h1v1h-1zM43 33h1v1h-1zM32 34h1v1h-1zM45 34h1v1h-1zM28 38h1v1h-1zM49 38h1v1h-1zM27 40h1v1h-1zM50 40h1v1h-1zM50 44h1v1h-1zM49 47h1v1h-1zM28 48h1v1h-1zM44 52h1v1h-1zM35 53h1v1h-1zM41 53h1v1h-1z"/><path fill="#666970" d="M42 33h1v1h-1zM46 35h1v1h-1zM27 41h1v1h-1zM50 41h1v1h-1zM50 42h1v1h-1zM50 43h1v1h-1zM27 45h1v1h-1zM29 49h1v1h-1zM30 50h1v1h-1zM31 51h1v1h-1zM45 51h1v1h-1zM36 53h1v1h-1zM40 53h1v1h-1z"/><path fill="#686a71" d="M35 33h1v1h-1zM31 35h1v1h-1zM47 36h1v1h-1zM29 37h1v1h-1zM48 37h1v1h-1zM27 42h1v1h-1zM27 43h1v1h-1zM27 44h1v1h-1zM49 46h1v1h-1zM48 48h1v1h-1zM47 49h1v1h-1zM46 50h1v1h-1zM33 52h1v1h-1zM43 52h1v1h-1zM37 53h3v1h-3z"/><path fill="#6b6d72" d="M36 33h1v1h-1zM41 33h1v1h-1zM33 34h1v1h-1zM44 34h1v1h-1zM30 36h1v1h-1zM28 39h1v1h-1zM49 39h1v1h-1zM49 45h1v1h-1zM28 47h1v1h-1z"/><path fill="#6d6f72" d="M37 33h1v1h-1zM39 33h2v1h-2zM48 38h1v1h-1zM49 40h1v1h-1zM49 44h1v1h-1zM48 47h1v1h-1zM32 51h1v1h-1zM44 51h1v1h-1zM34 52h1v1h-1zM42 52h1v1h-1z"/><path fill="#6f7073" d="M38 33h1v1h-1zM43 34h1v1h-1zM45 35h1v1h-1zM29 38h1v1h-1zM49 41h1v1h-1zM49 42h1v1h-1zM49 43h1v1h-1zM28 46h1v1h-1zM29 48h1v1h-1zM31 50h1v1h-1zM45 50h1v1h-1zM41 52h1v1h-1z"/><path fill="#727274" d="M34 34h1v1h-1zM32 35h1v1h-1zM46 36h1v1h-1zM47 37h1v1h-1zM28 40h1v1h-1zM48 46h1v1h-1zM47 48h1v1h-1zM30 49h1v1h-1zM46 49h1v1h-1zM35 52h1v1h-1z"/><path fill="#737475" d="M42 34h1v1h-1zM44 35h1v1h-1zM31 36h1v1h-1zM30 37h1v1h-1zM48 39h1v1h-1zM28 41h1v1h-1zM28 45h1v1h-1zM33 51h1v1h-1zM43 51h1v1h-1zM36 52h1v1h-1zM40 52h1v1h-1z"/><path fill="#767676" d="M35 34h1v1h-1zM33 35h1v1h-1zM47 38h1v1h-1zM48 40h1v1h-1zM28 42h1v1h-1zM28 44h1v1h-1zM48 45h1v1h-1zM47 47h1v1h-1zM44 50h1v1h-1zM37 52h3v1h-3z"/><path fill="#777777" d="M36 34h1v1h-1zM41 34h1v1h-1zM45 36h1v1h-1zM46 37h1v1h-1zM29 39h1v1h-1zM48 41h1v1h-1zM28 43h1v1h-1zM48 44h1v1h-1zM29 47h1v1h-1zM46 48h1v1h-1zM45 49h1v1h-1zM32 50h1v1h-1zM42 51h1v1h-1z"/><path fill="#7a7a78" d="M37 34h1v1h-1zM39 34h2v1h-2zM43 35h1v1h-1zM48 42h1v1h-1zM48 43h1v1h-1zM30 48h1v1h-1zM31 49h1v1h-1zM34 51h1v1h-1z"/><path fill="#7d7c78" d="M38 34h1v1h-1zM34 35h1v1h-1zM32 36h1v1h-1zM31 37h1v1h-1zM30 38h1v1h-1zM47 39h1v1h-1zM29 46h1v1h-1zM47 46h1v1h-1zM43 50h1v1h-1zM41 51h1v1h-1z"/><path fill="#7e7d78" d="M42 35h1v1h-1zM44 36h1v1h-1zM29 40h1v1h-1zM35 51h1v1h-1zM40 51h1v1h-1z"/><path fill="#817f78" d="M45 37h1v1h-1zM46 38h1v1h-1zM47 40h1v1h-1zM47 45h1v1h-1zM46 47h1v1h-1zM44 49h1v1h-1zM33 50h1v1h-1zM36 51h1v1h-1z"/><path fill="#838179" d="M35 35h1v1h-1zM33 36h1v1h-1zM29 41h1v1h-1zM47 41h1v1h-1zM47 44h1v1h-1zM29 45h1v1h-1zM45 48h1v1h-1zM42 50h1v1h-1zM37 51h1v1h-1zM39 51h1v1h-1z"/><path fill="#868379" d="M41 35h1v1h-1zM43 36h1v1h-1zM30 39h1v1h-1zM47 42h1v1h-1zM47 43h1v1h-1zM29 44h1v1h-1zM30 47h1v1h-1zM32 49h1v1h-1zM38 51h1v1h-1z"/><path fill="#888578" d="M36 35h1v1h-1zM40 35h1v1h-1zM32 37h1v1h-1zM46 39h1v1h-1zM29 42h1v1h-1zM29 43h1v1h-1zM46 46h1v1h-1zM31 48h1v1h-1z"/><path fill="#8b8778" d="M39 35h1v1h-1zM44 37h1v1h-1zM31 38h1v1h-1zM45 38h1v1h-1zM43 49h1v1h-1zM34 50h1v1h-1zM41 50h1v1h-1z"/><path fill="#8d8878" d="M37 35h2v1h-2zM34 36h1v1h-1zM46 40h1v1h-1zM46 45h1v1h-1zM45 47h1v1h-1zM44 48h1v1h-1z"/><path fill="#908b78" d="M42 36h1v1h-1zM30 40h1v1h-1zM30 46h1v1h-1z"/><path fill="#928d78" d="M46 41h1v1h-1zM46 44h1v1h-1zM33 49h1v1h-1zM35 50h1v1h-1zM40 50h1v1h-1z"/><path fill="#948e77" d="M41 36h1v1h-1zM33 37h1v1h-1zM43 37h1v1h-1zM45 39h1v1h-1zM46 42h1v1h-1zM46 43h1v1h-1zM30 45h1v1h-1zM31 47h1v1h-1zM42 49h1v1h-1zM36 50h1v1h-1zM39 50h1v1h-1z"/><path fill="#979177" d="M35 36h1v1h-1zM44 38h1v1h-1zM31 39h1v1h-1zM30 41h1v1h-1zM45 46h1v1h-1zM32 48h1v1h-1zM37 50h2v1h-2z"/><path fill="#999277" d="M40 36h1v1h-1zM32 38h1v1h-1zM30 42h1v1h-1zM30 44h1v1h-1zM44 47h1v1h-1zM43 48h1v1h-1z"/><path fill="#9c9576" d="M36 36h1v1h-1zM42 37h1v1h-1zM45 40h1v1h-1zM30 43h1v1h-1zM45 45h1v1h-1zM34 49h1v1h-1zM41 49h1v1h-1z"/><path fill="#9e9676" d="M37 36h3v1h-3zM34 37h1v1h-1z"/><path fill="#a19975" d="M43 38h1v1h-1zM44 39h1v1h-1zM31 40h1v1h-1zM45 41h1v1h-1zM45 44h1v1h-1zM31 46h1v1h-1z"/><path fill="#a39a74" d="M41 37h1v1h-1zM45 42h1v1h-1zM45 43h1v1h-1zM44 46h1v1h-1zM33 48h1v1h-1zM42 48h1v1h-1zM35 49h1v1h-1zM40 49h1v1h-1z"/><path fill="#a69c74" d="M33 38h1v1h-1zM32 39h1v1h-1zM32 47h1v1h-1zM43 47h1v1h-1z"/><path fill="#a99f73" d="M35 37h1v1h-1zM44 40h1v1h-1zM31 41h1v1h-1zM31 45h1v1h-1zM36 49h1v1h-1zM39 49h1v1h-1z"/><path fill="#aba072" d="M40 37h1v1h-1zM42 38h1v1h-1zM43 39h1v1h-1zM44 45h1v1h-1zM41 48h1v1h-1zM37 49h2v1h-2z"/><path fill="#aea371" d="M36 37h1v1h-1zM44 41h1v1h-1zM31 42h1v1h-1zM31 44h1v1h-1zM34 48h1v1h-1z"/><path fill="#b0a571" d="M39 37h1v1h-1zM34 38h1v1h-1zM44 42h1v1h-1zM31 43h1v1h-1zM44 43h1v1h-1zM44 44h1v1h-1zM43 46h1v1h-1zM42 47h1v1h-1z"/><path fill="#b4a76f" d="M37 37h2v1h-2zM32 40h1v1h-1zM32 46h1v1h-1z"/><path fill="#b6a96f" d="M41 38h1v1h-1zM33 39h1v1h-1zM43 40h1v1h-1zM33 47h1v1h-1zM40 48h1v1h-1z"/><path fill="#b9ab6d" d="M42 39h1v1h-1zM35 48h1v1h-1z"/><path fill="#bcae6c" d="M35 38h1v1h-1zM43 45h1v1h-1z"/><path fill="#beaf6b" d="M40 38h1v1h-1zM32 41h1v1h-1zM32 45h1v1h-1zM41 47h1v1h-1zM39 48h1v1h-1z"/><path fill="#c1b26a" d="M43 41h1v1h-1zM42 46h1v1h-1zM36 48h1v1h-1z"/><path fill="#c3b369" d="M43 42h1v1h-1zM43 44h1v1h-1zM34 47h1v1h-1zM37 48h2v1h-2z"/><path fill="#c6b667" d="M36 38h1v1h-1zM39 38h1v1h-1zM34 39h1v1h-1zM41 39h1v1h-1zM33 40h1v1h-1zM42 40h1v1h-1zM32 42h1v1h-1zM32 43h1v1h-1zM43 43h1v1h-1zM32 44h1v1h-1zM33 46h1v1h-1z"/><path fill="#c8b866" d="M37 38h2v1h-2zM40 47h1v1h-1z"/><path fill="#cebc63" d="M42 45h1v1h-1zM41 46h1v1h-1zM35 47h1v1h-1z"/><path fill="#d1bf61" d="M35 39h1v1h-1zM40 39h1v1h-1zM33 41h1v1h-1zM42 41h1v1h-1zM33 45h1v1h-1zM39 47h1v1h-1z"/><path fill="#d4c15f" d="M41 40h1v1h-1zM42 44h1v1h-1z"/><path fill="#d6c35d" d="M34 40h1v1h-1zM42 42h1v1h-1zM42 43h1v1h-1zM34 46h1v1h-1zM36 47h1v1h-1zM38 47h1v1h-1z"/><path fill="#dac65b" d="M36 39h1v1h-1zM39 39h1v1h-1zM33 42h1v1h-1zM33 44h1v1h-1zM40 46h1v1h-1zM37 47h1v1h-1z"/><path fill="#dcc859" d="M37 39h2v1h-2zM33 43h1v1h-1zM41 45h1v1h-1z"/><path fill="#dfca57" d="M40 40h1v1h-1zM41 41h1v1h-1zM35 46h1v1h-1z"/><path fill="#e1cc55" d="M35 40h1v1h-1zM34 41h1v1h-1zM34 45h1v1h-1zM39 46h1v1h-1z"/><path fill="#e5cf52" d="M41 42h1v1h-1zM41 44h1v1h-1z"/><path fill="#e7d150" d="M39 40h1v1h-1zM41 43h1v1h-1zM40 45h1v1h-1zM36 46h1v1h-1zM38 46h1v1h-1z"/><path fill="#ead34c" d="M36 40h1v1h-1zM40 41h1v1h-1zM34 42h1v1h-1zM34 44h1v1h-1zM37 46h1v1h-1z"/><path fill="#eed649" d="M37 40h2v1h-2zM35 41h1v1h-1zM34 43h1v1h-1zM35 45h1v1h-1z"/><path fill="#f0d846" d="M40 42h1v1h-1zM40 44h1v1h-1zM39 45h1v1h-1z"/><path fill="#f3db42" d="M39 41h1v1h-1zM40 43h1v1h-1zM36 45h1v1h-1z"/><path fill="#f6dd3f" d="M36 41h1v1h-1zM38 41h1v1h-1zM35 42h1v1h-1zM35 44h1v1h-1zM37 45h2v1h-2z"/><path fill="#f9e03a" d="M37 41h1v1h-1zM39 42h1v1h-1zM35 43h1v1h-1zM39 44h1v1h-1z"/><path fill="#fce236" d="M36 42h1v1h-1zM39 43h1v1h-1zM36 44h1v1h-1zM38 44h1v1h-1z"/><path fill="#fee535" d="M37 42h2v1h-2zM36 43h1v1h-1zM38 43h1v1h-1zM37 44h1v1h-1z"/><path fill="#fee838" d="M37 43h1v1h-1z"/></g>
<g fill="none" stroke="#fff" stroke-width="2.00" stroke-linejoin="round"><path d="M1200.0,712.9 1170.7,714.2 1142.1,719.6 1113.5,726.3 1084.9,732.1 1054.7,737.1 1026.1,740.5 997.5,745.5 968.9,752.2 940.3,767.4 911.7,787.6 873.0,822.9 837.7,853.2 809.1,871.7 765.3,898.6 738.4,920.5 718.2,939.0 698.0,967.6 679.5,999.5 664.4,1029.8 650.9,1060.1 637.5,1087.0 624.0,1112.2 613.9,1140.8 605.5,1171.1 598.8,1199.7 592.1,1228.3 582.0,1258.6 573.6,1285.5 567.5,1313.6 567.5,1342.2 575.2,1372.5 583.6,1396.1 593.7,1421.3 607.2,1458.3 622.3,1488.6 640.8,1518.9 664.4,1552.5 693.0,1586.2 714.9,1613.1 738.4,1643.4 765.3,1663.5 793.9,1683.7 822.5,1703.9 851.1,1724.1 881.4,1746.0 911.7,1766.2 940.3,1777.9 968.9,1788.0 997.5,1794.8 1026.1,1801.5 1054.7,1809.9 1084.9,1821.7 1113.5,1830.1 1142.1,1833.4 1170.7,1832.4 1200.0,1826.7 1199.5,1827.7 1228.8,1821.0 1257.4,1814.3 1286.0,1807.5 1314.6,1801.5 1343.2,1794.1 1375.1,1782.0 1403.7,1767.8 1432.3,1753.4 1460.9,1741.6 1489.5,1732.5 1518.1,1723.4 1546.7,1717.4 1575.3,1712.3 1603.9,1708.0 1632.5,1700.5 1647.7,1693.8 1661.1,1685.4 1672.9,1673.6 1683.0,1661.9 1691.4,1645.0 1698.1,1628.2 1704.8,1603.0 1711.6,1579.4 1718.3,1555.9 1725.0,1534.0 1735.1,1508.8 1746.9,1481.9 1757.0,1465.0 1772.1,1441.5 1785.6,1417.9 1799.0,1391.0 1809.1,1365.8 1817.6,1338.9 1822.6,1306.9 1823.6,1280.0 1820.9,1315.8 1823.6,1285.5 1823.6,1261.9 1823.6,1238.4 1823.3,1204.8 1820.9,1171.1 1814.2,1140.8 1799.0,1112.2 1775.5,1076.9 1751.9,1029.8 1738.5,997.8 1721.7,967.6 1696.4,939.6 1669.5,910.4 1661.1,900.3 1632.5,862.3 1624.1,853.2 1603.9,835.3 1588.8,826.3 1560.2,810.4 1531.6,794.3 1494.6,766.7 1487.8,760.7 1459.2,743.8 1430.6,739.5 1402.0,737.1 1371.8,729.7 1343.2,723.0 1314.6,719.6 1286.0,717.6 1257.4,715.9 1228.8,714.2 1199.5,712.9Z"/><path d="M1180.4,928.3 1210.9,930.4 1241.3,934.8 1271.7,941.3 1315.2,954.3 1358.7,973.9 1402.2,997.8 1441.3,1028.3 1476.1,1060.9 1506.5,1097.8 1539.1,1150.0 1554.3,1191.3 1560.9,1230.4 1560.9,1256.5 1556.5,1291.3 1550.0,1323.9 1541.3,1356.5 1528.3,1397.8 1510.9,1434.8 1489.1,1467.4 1463.0,1497.8 1432.6,1528.3 1402.2,1554.3 1367.4,1578.3 1315.2,1606.5 1271.7,1621.7 1241.3,1629.1 1210.9,1634.8 1180.4,1638.3 1141.3,1639.1 1115.2,1638.3 1084.8,1632.6 1054.3,1623.9 1023.9,1613.0 997.8,1604.3 967.4,1591.3 937.0,1573.9 897.8,1547.8 867.4,1521.7 841.3,1491.3 819.6,1460.9 797.8,1421.7 782.6,1380.4 773.9,1347.8 769.6,1306.5 769.6,1273.9 773.9,1234.8 780.4,1195.7 795.7,1152.2 819.6,1104.3 837.0,1078.3 863.0,1045.7 889.1,1017.4 921.7,993.5 967.4,969.6 995.7,958.7 1028.3,947.8 1054.3,943.5 1084.8,937.0 1119.6,930.4 1150.0,928.3Z"/><path d="M1113.3,1029.5 1142.8,1028.0 1170.7,1029.5 1197.1,1032.6 1225.1,1037.9 1253.0,1046.6 1281.0,1059.0 1308.9,1074.5 1336.9,1093.2 1361.7,1114.9 1383.5,1141.3 1400.6,1169.3 1411.4,1198.8 1419.2,1229.8 1421.7,1260.9 1420.7,1291.9 1411.4,1335.4 1403.7,1363.4 1392.8,1388.2 1375.7,1413.0 1349.3,1441.0 1321.4,1465.8 1293.4,1484.5 1253.0,1506.2 1225.1,1515.5 1197.1,1523.3 1170.7,1528.0 1142.8,1530.4 1113.3,1529.5 1085.3,1526.4 1057.4,1521.7 1029.4,1512.4 1001.5,1500.0 967.3,1478.3 942.5,1456.5 914.5,1428.6 892.8,1400.6 877.3,1366.5 869.5,1335.4 864.8,1313.7 863.3,1282.6 864.8,1254.7 871.1,1217.4 883.5,1186.3 914.5,1139.8 942.5,1108.7 970.4,1085.4 1001.5,1066.8 1029.4,1052.8 1057.4,1040.4 1085.3,1034.2Z"/><path d="M1113.5,1117.8 1140.7,1117.8 1170.0,1121.5 1198.3,1130.2 1227.6,1143.3 1258.0,1165.0 1286.3,1196.5 1300.4,1228.0 1306.5,1257.4 1307.6,1285.7 1304.8,1313.9 1296.1,1342.2 1286.3,1360.7 1271.1,1377.0 1241.7,1405.2 1226.5,1413.9 1198.3,1429.1 1170.0,1440.0 1140.7,1445.4 1113.5,1446.1 1085.2,1442.2 1055.9,1434.6 1026.5,1420.4 997.2,1400.9 973.3,1372.6 958.0,1342.2 949.3,1313.9 947.2,1285.7 949.3,1257.4 958.0,1228.0 973.3,1198.7 997.2,1170.4 1026.5,1147.6 1055.9,1133.5 1084.1,1122.6Z"/></g>
<circle cx="1113" cy="1285.5" r="2.2" fill="#fff"/>
<rect x="154" y="241" width="390" height="13" fill="#fff"/><path fill="#fff" d="M432.7,412 H411.9 L437.2,362.3 L462,412 H441.7 V597.2 H256.5 V618 L206.2,592.7 L256.5,568 V588.4 H432.7 Z"/><path fill="#fff" d="M232.3,823.2 L201.3,869.4 L257.2,866.6 L248.0,850.6 L441.3,742.0 L436.8,734.0 L243.5,842.6 Z"/><line x1="1885.6" y1="647.4" x2="2014.6" y2="1751.4" stroke="#fff" stroke-width="8.6"/><line x1="639.7" y1="2051.2" x2="1874.5" y2="1906.9" stroke="#fff" stroke-width="8.2"/><path fill="#fff" d="M1832.8,2147.0 H1932.1 V2186.1 A42.0 35.4 0 0 0 1890.1,2150.7 V2249.6 H1910.0 V2254.0 H1855.4 V2249.6 H1874.8 V2150.7 A42.0 35.4 0 0 0 1832.8,2186.1 ZM1932.1,2186.1 H1997.8 V2212.2 A25.4 22.6 0 0 0 1972.4,2189.6 V2249.6 H1992.3 V2254.0 H1937.8 V2249.6 H1957.5 V2189.6 A25.4 22.6 0 0 0 1932.1,2212.2 ZM1997.8,2147.0 H2097.1 V2186.1 A42.0 35.4 0 0 0 2055.1,2150.7 V2249.6 H2075.0 V2254.0 H2020.4 V2249.6 H2039.8 V2150.7 A42.0 35.4 0 0 0 1997.8,2186.1 Z"/><circle cx="2193.1" cy="2205.2" r="70" fill="#f8f8f8"/><path d="M2193.1,2154.2 A51 51 0 0 0 2193.1,2256.2 Z" fill="#c8c8c8"/><path d="M2193.1,2154.2 A51 51 0 0 1 2193.1,2256.2 Z" fill="#353535"/><clipPath id="lh"><path d="M2193.1,2155.2 A50 50 0 0 0 2193.1,2255.2 Z"/></clipPath><path clip-path="url(#lh)" d="M2168.1,2204.2 L2248.1,2204.2M2168.1,2204.2 L2245.4,2224.9M2168.1,2204.2 L2237.4,2244.2M2168.1,2204.2 L2224.7,2260.8M2168.1,2204.2 L2208.1,2273.5M2168.1,2204.2 L2188.8,2281.5M2168.1,2204.2 L2168.1,2284.2M2168.1,2204.2 L2147.4,2281.5M2168.1,2204.2 L2128.1,2273.5M2168.1,2204.2 L2111.5,2260.8M2168.1,2204.2 L2098.8,2244.2M2168.1,2204.2 L2090.8,2224.9M2168.1,2204.2 L2088.1,2204.2M2168.1,2204.2 L2090.8,2183.5M2168.1,2204.2 L2098.8,2164.2M2168.1,2204.2 L2111.5,2147.6M2168.1,2204.2 L2128.1,2134.9M2168.1,2204.2 L2147.4,2126.9M2168.1,2204.2 L2168.1,2124.2M2168.1,2204.2 L2188.8,2126.9M2168.1,2204.2 L2208.1,2134.9M2168.1,2204.2 L2224.7,2147.6M2168.1,2204.2 L2237.4,2164.2M2168.1,2204.2 L2245.4,2183.5" stroke="#e8e8e8" stroke-width="0.7"/><polygon points="2168.1,2181.2 2170.7,2196.1 2181.6,2185.6 2175.0,2199.2 2190.0,2197.1 2176.6,2204.2 2190.0,2211.3 2175.0,2209.2 2181.6,2222.8 2170.7,2212.3 2168.1,2227.2 2165.5,2212.3 2154.6,2222.8 2161.2,2209.2 2146.2,2211.3 2159.6,2204.2 2146.2,2197.1 2161.2,2199.2 2154.6,2185.6 2165.5,2196.1" fill="#f4f4f4" stroke="#333" stroke-width="1.1" stroke-linejoin="round"/><circle cx="2168.1" cy="2204.2" r="4.5" fill="#f4f4f4" stroke="#333" stroke-width="1"/><circle cx="2168.1" cy="2204.2" r="2" fill="none" stroke="#333" stroke-width="0.8"/><circle cx="2193.1" cy="2205.2" r="51" fill="none" stroke="#333" stroke-width="1.3"/><polygon points="2202.6,2160.4 2203.3,2162.7 2205.6,2163.4 2203.3,2164.0 2202.6,2166.4 2202.0,2164.0 2199.6,2163.4 2202.0,2162.7" fill="#fff"/><polygon points="2215.4,2165.0 2216.1,2167.4 2218.4,2168.0 2216.1,2168.7 2215.4,2171.0 2214.8,2168.7 2212.4,2168.0 2214.8,2167.4" fill="#fff"/><polygon points="2199.1,2168.1 2199.8,2170.5 2202.1,2171.1 2199.8,2171.8 2199.1,2174.1 2198.5,2171.8 2196.1,2171.1 2198.5,2170.5" fill="#fff"/><polygon points="2206.5,2173.9 2207.6,2177.9 2211.5,2178.9 2207.6,2180.0 2206.5,2183.9 2205.4,2180.0 2201.5,2178.9 2205.4,2177.9" fill="#fff"/><polygon points="2219.7,2173.6 2220.3,2175.9 2222.7,2176.6 2220.3,2177.2 2219.7,2179.6 2219.1,2177.2 2216.7,2176.6 2219.1,2175.9" fill="#fff"/><polygon points="2228.6,2174.0 2229.3,2176.3 2231.6,2177.0 2229.3,2177.6 2228.6,2180.0 2228.0,2177.6 2225.6,2177.0 2228.0,2176.3" fill="#fff"/><polygon points="2199.1,2179.8 2199.8,2182.2 2202.1,2182.8 2199.8,2183.4 2199.1,2185.8 2198.5,2183.4 2196.1,2182.8 2198.5,2182.2" fill="#fff"/><polygon points="2212.7,2181.3 2213.4,2183.7 2215.7,2184.3 2213.4,2185.0 2212.7,2187.3 2212.1,2185.0 2209.7,2184.3 2212.1,2183.7" fill="#fff"/><polygon points="2226.7,2179.7 2227.8,2183.7 2231.7,2184.7 2227.8,2185.8 2226.7,2189.7 2225.6,2185.8 2221.7,2184.7 2225.6,2183.7" fill="#fff"/><polygon points="2234.1,2185.8 2234.9,2188.9 2238.1,2189.8 2234.9,2190.6 2234.1,2193.8 2233.2,2190.6 2230.1,2189.8 2233.2,2188.9" fill="#fff"/><polygon points="2206.5,2189.1 2207.1,2191.5 2209.5,2192.1 2207.1,2192.7 2206.5,2195.1 2205.9,2192.7 2203.5,2192.1 2205.9,2191.5" fill="#fff"/><polygon points="2228.6,2194.5 2229.3,2196.9 2231.6,2197.5 2229.3,2198.2 2228.6,2200.5 2228.0,2198.2 2225.6,2197.5 2228.0,2196.9" fill="#fff"/><polygon points="2212.3,2195.0 2213.6,2199.8 2218.3,2201.0 2213.6,2202.3 2212.3,2207.0 2211.1,2202.3 2206.3,2201.0 2211.1,2199.8" fill="#fff"/><polygon points="2234.5,2201.1 2235.1,2203.5 2237.5,2204.1 2235.1,2204.8 2234.5,2207.1 2233.8,2204.8 2231.5,2204.1 2233.8,2203.5" fill="#fff"/><polygon points="2203.4,2203.6 2204.3,2206.8 2207.4,2207.6 2204.3,2208.5 2203.4,2211.6 2202.6,2208.5 2199.4,2207.6 2202.6,2206.8" fill="#fff"/><polygon points="2220.5,2204.3 2221.1,2206.6 2223.5,2207.3 2221.1,2207.9 2220.5,2210.3 2219.8,2207.9 2217.5,2207.3 2219.8,2206.6" fill="#fff"/><polygon points="2226.3,2208.7 2227.2,2211.8 2230.3,2212.7 2227.2,2213.5 2226.3,2216.7 2225.5,2213.5 2222.3,2212.7 2225.5,2211.8" fill="#fff"/><polygon points="2206.5,2212.0 2207.1,2214.4 2209.5,2215.0 2207.1,2215.7 2206.5,2218.0 2205.9,2215.7 2203.5,2215.0 2205.9,2214.4" fill="#fff"/><polygon points="2232.5,2213.2 2233.2,2215.5 2235.5,2216.2 2233.2,2216.8 2232.5,2219.2 2231.9,2216.8 2229.5,2216.2 2231.9,2215.5" fill="#fff"/><polygon points="2200.3,2216.3 2200.9,2218.6 2203.3,2219.3 2200.9,2219.9 2200.3,2222.3 2199.7,2219.9 2197.3,2219.3 2199.7,2218.6" fill="#fff"/><polygon points="2221.3,2217.1 2221.9,2219.4 2224.3,2220.1 2221.9,2220.7 2221.3,2223.1 2220.6,2220.7 2218.3,2220.1 2220.6,2219.4" fill="#fff"/><polygon points="2231.0,2221.7 2231.6,2224.1 2234.0,2224.7 2231.6,2225.4 2231.0,2227.7 2230.3,2225.4 2228.0,2224.7 2230.3,2224.1" fill="#fff"/><polygon points="2218.9,2224.2 2219.8,2227.4 2222.9,2228.2 2219.8,2229.1 2218.9,2232.2 2218.1,2229.1 2214.9,2228.2 2218.1,2227.4" fill="#fff"/><polygon points="2207.3,2225.2 2208.3,2229.1 2212.3,2230.2 2208.3,2231.2 2207.3,2235.2 2206.2,2231.2 2202.3,2230.2 2206.2,2229.1" fill="#fff"/><polygon points="2198.7,2229.9 2199.4,2232.2 2201.7,2232.9 2199.4,2233.5 2198.7,2235.9 2198.1,2233.5 2195.7,2232.9 2198.1,2232.2" fill="#fff"/><polygon points="2223.6,2230.8 2224.4,2234.0 2227.6,2234.8 2224.4,2235.7 2223.6,2238.8 2222.7,2235.7 2219.6,2234.8 2222.7,2234.0" fill="#fff"/><polygon points="2214.3,2235.3 2214.9,2237.7 2217.3,2238.3 2214.9,2238.9 2214.3,2241.3 2213.6,2238.9 2211.3,2238.3 2213.6,2237.7" fill="#fff"/><polygon points="2199.9,2241.9 2200.5,2244.3 2202.9,2244.9 2200.5,2245.5 2199.9,2247.9 2199.3,2245.5 2196.9,2244.9 2199.3,2244.3" fill="#fff"/><polygon points="2209.6,2241.1 2210.3,2243.5 2212.6,2244.1 2210.3,2244.8 2209.6,2247.1 2209.0,2244.8 2206.6,2244.1 2209.0,2243.5" fill="#fff"/><path id="ringtop" fill="none" d="M2166.81,2254.65 A56.0 56.0 0 1 1 2219.39,2254.65"/><text style="font-family:'Liberation Serif',serif;fill:#2a2a2a" stroke="#2a2a2a" stroke-width="0.25" font-size="15.0"><textPath href="#ringtop" textLength="288.0" lengthAdjust="spacingAndGlyphs">INSTITUTO Ð ASTROFISICA Ð CANARIAS</textPath></text><path id="ringbot" fill="none" d="M2168.38,2266.39 A66.0 66.0 0 0 0 2217.82,2266.39"/><text style="font-family:'Liberation Serif',serif;fill:#2a2a2a" stroke="#2a2a2a" stroke-width="0.25" font-size="15.0"><textPath href="#ringbot" textLength="46.0" lengthAdjust="spacingAndGlyphs">·IAC·</textPath></text>
<text x="2223.0" y="191.3" font-size="59.30" text-anchor="end" font-weight="bold" textLength="697.8" lengthAdjust="spacingAndGlyphs" stroke="#fff" stroke-width="1.00">3I/ATLAS (C/2025 N1)</text><text x="2223.0" y="255.5" font-size="59.30" text-anchor="end" font-weight="bold" textLength="1091.0" lengthAdjust="spacingAndGlyphs" stroke="#fff" stroke-width="1.00">Two-meter Twin Telescope (TTT3)</text><text x="2223.5" y="368.5" font-size="50.00" text-anchor="end" textLength="1057.8" lengthAdjust="spacingAndGlyphs" stroke="#fff" stroke-width="0.50">2025-07-02 21:28 − 2025-07-03 02:47 UT</text><text x="2223.5" y="426.3" font-size="50.00" text-anchor="end" textLength="837.7" lengthAdjust="spacingAndGlyphs" stroke="#fff" stroke-width="0.50">239×50s g′, 0.23″/px, seeing 1.3″</text><text x="98.0" y="2223.5" font-size="37.50" text-anchor="start" textLength="835.9" lengthAdjust="spacingAndGlyphs" stroke="#fff" stroke-width="0.50">Miguel R. Alarcon, M. Serra-Ricart, J.Licandro</text><text x="98.0" y="2274.0" font-size="37.50" text-anchor="start" textLength="1131.3" lengthAdjust="spacingAndGlyphs" stroke="#fff" stroke-width="0.50">Sergio Guerra Arencibia, Ignacio Ruiz Cejudo, Ignacio Trujillo</text><text x="360.5" y="213.8" font-size="50.00" text-anchor="middle" textLength="54.8" lengthAdjust="spacingAndGlyphs" stroke="#fff" stroke-width="0.50">3&quot;</text><text x="437.5" y="352.4" font-size="50.00" text-anchor="middle" textLength="37.4" lengthAdjust="spacingAndGlyphs" stroke="#fff" stroke-width="0.50">N</text><text x="178.0" y="607.0" font-size="50.00" text-anchor="middle" textLength="31.6" lengthAdjust="spacingAndGlyphs" stroke="#fff" stroke-width="0.50">E</text><text x="296.0" y="746.5" font-size="50.00" text-anchor="middle" textLength="163.6" lengthAdjust="spacingAndGlyphs" stroke="#fff" stroke-width="0.50">To Sun</text><g transform="translate(1258.0 1955.0) rotate(-6.665)"><text x="0.0" y="0.0" font-size="50.00" text-anchor="middle" textLength="252.6" lengthAdjust="spacingAndGlyphs" stroke="#fff" stroke-width="0.50">25000 km</text></g><g transform="translate(2001.0 1199.0) rotate(-96.665)"><text x="0.0" y="0.0" font-size="50.00" text-anchor="middle" textLength="252.6" lengthAdjust="spacingAndGlyphs" stroke="#fff" stroke-width="0.50">22400 km</text></g>
</svg>
</body></html>
